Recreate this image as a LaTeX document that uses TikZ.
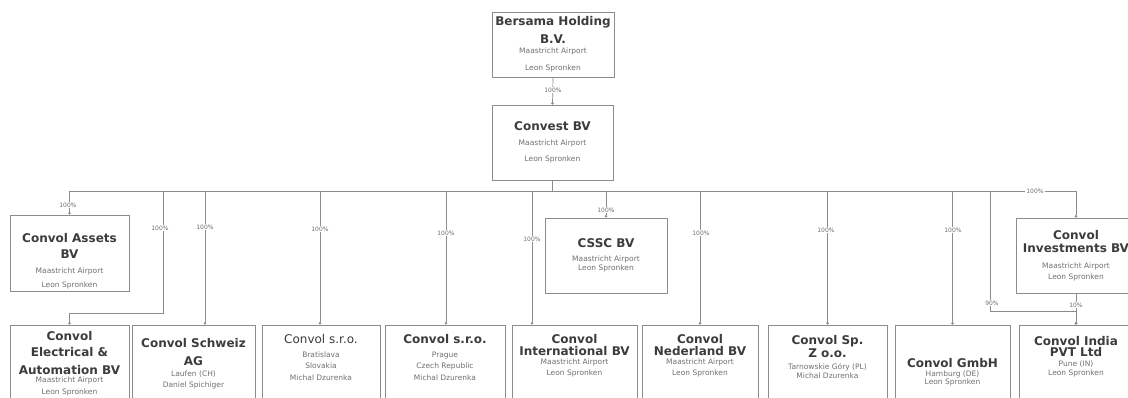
\documentclass[tikz,border=0pt]{standalone}
\usepackage{fontspec}
\setmainfont{DejaVu Sans}
\usetikzlibrary{arrows.meta}
\definecolor{linec}{HTML}{8C8C8C}
\definecolor{titlec}{HTML}{3C3C3C}
\definecolor{smallc}{HTML}{707070}
\newcommand\tf{\fontsize{12}{14}\selectfont\bfseries\color{titlec}}
\newcommand\tm{\fontsize{12}{14}\selectfont\mdseries\color{titlec}}
\newcommand\sm{\fontsize{7.5}{9}\selectfont\mdseries\color{smallc}}
\newcommand\gap[1]{\rule{0pt}{0pt}\\[#1]}
\tikzset{
 orgbox/.style={draw=linec, line width=0.8pt, align=center, inner sep=1pt, font=\fontsize{7.5}{9}\selectfont},
 link/.style={draw=linec, line width=0.7pt, -{Circle[length=2.5pt]}},
 pct/.style={font=\fontsize{6}{6}\selectfont, text=smallc, fill=white, inner sep=1pt},
}
\begin{document}
\begin{tikzpicture}[x=1pt,y=-1pt]
\useasboundingbox (0,0) rectangle (1128,398);
\clip (0,0) rectangle (1128,398);
\fill[white] (0,0) rectangle (1128,398);

% top
\node[orgbox, minimum width=122pt, minimum height=65pt] (bersama) at (553,44.5)
 {\tf Bersama Holding\\[6pt]\tf B.V.\\[1pt]\sm Maastricht Airport\\[8pt]\sm Leon Spronken};
\node[orgbox, minimum width=121pt, minimum height=75pt] (convest) at (552.5,142.5)
 {\tf Convest BV\\[6pt]\sm Maastricht Airport\\[7pt]\sm Leon Spronken};

% middle row
\node[orgbox, minimum width=119pt, minimum height=76pt, inner sep=0pt] (assets) at (69.5,253)
 {\rule{0pt}{0pt}\\[15pt]\tf Convol Assets\\[7pt]\tf BV\\[6pt]\sm Maastricht Airport\\[5pt]\sm Leon Spronken};
\node[orgbox, minimum width=122pt, minimum height=75pt] (cssc) at (606,255.5)
 {\tf CSSC BV\\[5pt]\sm Maastricht Airport\\[0pt]\sm Leon Spronken};
\node[orgbox, minimum width=120pt, minimum height=75pt] (invest) at (1076,255.5)
 {\tf Convol\\[4pt]\tf Investments BV\\[7pt]\sm Maastricht Airport\\[2pt]\sm Leon Spronken};

% bottom row
\node[orgbox, minimum width=119pt, minimum height=77pt] (elec) at (69.5,363.5)
 {\tf Convol\\[6pt]\tf Electrical \&\\[7pt]\tf Automation BV\\[-1pt]\sm Maastricht Airport\\[3pt]\sm Leon Spronken};
\node[orgbox, minimum width=123pt, minimum height=77pt] (schweiz) at (193.5,363.5)
 {\tf Convol Schweiz\\[8pt]\tf AG\\[2pt]\sm Laufen (CH)\\[2pt]\sm Daniel Spichiger};
\node[orgbox, minimum width=118pt, minimum height=77pt] (sroa) at (321,363.5)
 {\tm Convol s.r.o.\\[5pt]\sm Bratislava\\[2pt]\sm Slovakia\\[3pt]\sm Michal Dzurenka\gap{4pt}};
\node[orgbox, minimum width=120pt, minimum height=77pt] (srob) at (445,363.5)
 {\tf Convol s.r.o.\\[5pt]\sm Prague\\[2pt]\sm Czech Republic\\[3pt]\sm Michal Dzurenka\gap{4pt}};
\node[orgbox, minimum width=125pt, minimum height=77pt] (intl) at (574.5,363.5)
 {\tf Convol\\[2pt]\tf International BV\\[0pt]\sm Maastricht Airport\\[2pt]\sm Leon Spronken\gap{8pt}};
\node[orgbox, minimum width=116pt, minimum height=77pt] (ned) at (700,363.5)
 {\tf Convol\\[2pt]\tf Nederland BV\\[0pt]\sm Maastricht Airport\\[2pt]\sm Leon Spronken\gap{8pt}};
\node[orgbox, minimum width=119pt, minimum height=77pt] (sp) at (827.5,363.5)
 {\tf Convol Sp.\\[0pt]\tf Z o.o.\\[3pt]\sm Tarnowskie Góry (PL)\\[0pt]\sm Michal Dzurenka\gap{4pt}};
\node[orgbox, minimum width=115pt, minimum height=77pt] (gmbh) at (952.5,363.5)
 {\rule{0pt}{0pt}\\[16pt]\tf Convol GmbH\\[0pt]\sm Hamburg (DE)\\[-1pt]\sm Leon Spronken};
\node[orgbox, minimum width=114pt, minimum height=77pt] (india) at (1076,363.5)
 {\tf Convol India\\[0pt]\tf PVT Ltd\\[1pt]\sm Pune (IN)\\[0pt]\sm Leon Spronken\gap{6pt}};

% helper coordinates
\coordinate (bus) at (552.5,191);
\coordinate (delec) at (163,191);
\coordinate (kelec) at (163,313);
\coordinate (dschweiz) at (205,191);
\coordinate (dsroa) at (320,191);
\coordinate (dsrob) at (446,191);
\coordinate (dintl) at (532,191);
\coordinate (dindia) at (990,191);
\coordinate (kindia) at (990,311);

% connectors
\draw[link] (bersama.south) -- (convest.north);
\draw[link] (convest.south) -- (bus) -| (assets.north);
\draw[link] (convest.south) -- (bus) -- (delec) -- (kelec) -| (elec.north);
\draw[link] (convest.south) -- (bus) -- (dschweiz) -- (dschweiz |- schweiz.north);
\draw[link] (convest.south) -- (bus) -- (dsroa) -- (dsroa |- sroa.north);
\draw[link] (convest.south) -- (bus) -- (dsrob) -- (dsrob |- srob.north);
\draw[link] (convest.south) -- (bus) -- (dintl) -- (dintl |- intl.north);
\draw[link] (convest.south) -- (bus) -| (cssc.north);
\draw[link] (convest.south) -- (bus) -| (ned.north);
\draw[link] (convest.south) -- (bus) -| (sp.north);
\draw[link] (convest.south) -- (bus) -| (gmbh.north);
\draw[link] (convest.south) -- (bus) -| (invest.north);
\draw[link] (convest.south) -- (bus) -- (dindia) -- (kindia) -| (india.north);
\draw[link] (invest.south) -- (india.north);

% percentages
\node[pct] (p0) at (553,90) {100\%};
\node[pct] (p1) at (68,205) {100\%};
\node[pct] (p2) at (160,228) {100\%};
\node[pct] (p3) at (205,227) {100\%};
\node[pct] (p4) at (320,229) {100\%};
\node[pct] (p5) at (446,233) {100\%};
\node[pct] (p6) at (532,239) {100\%};
\node[pct] (p7) at (606,210) {100\%};
\node[pct] (p8) at (701,233) {100\%};
\node[pct] (p9) at (826,230) {100\%};
\node[pct] (p10) at (953,230) {100\%};
\node[pct] (p11) at (1035,191) {100\%};
\node[pct] (p12) at (992,303) {90\%};
\node[pct] (p13) at (1076,305) {10\%};
\end{tikzpicture}
\end{document}
